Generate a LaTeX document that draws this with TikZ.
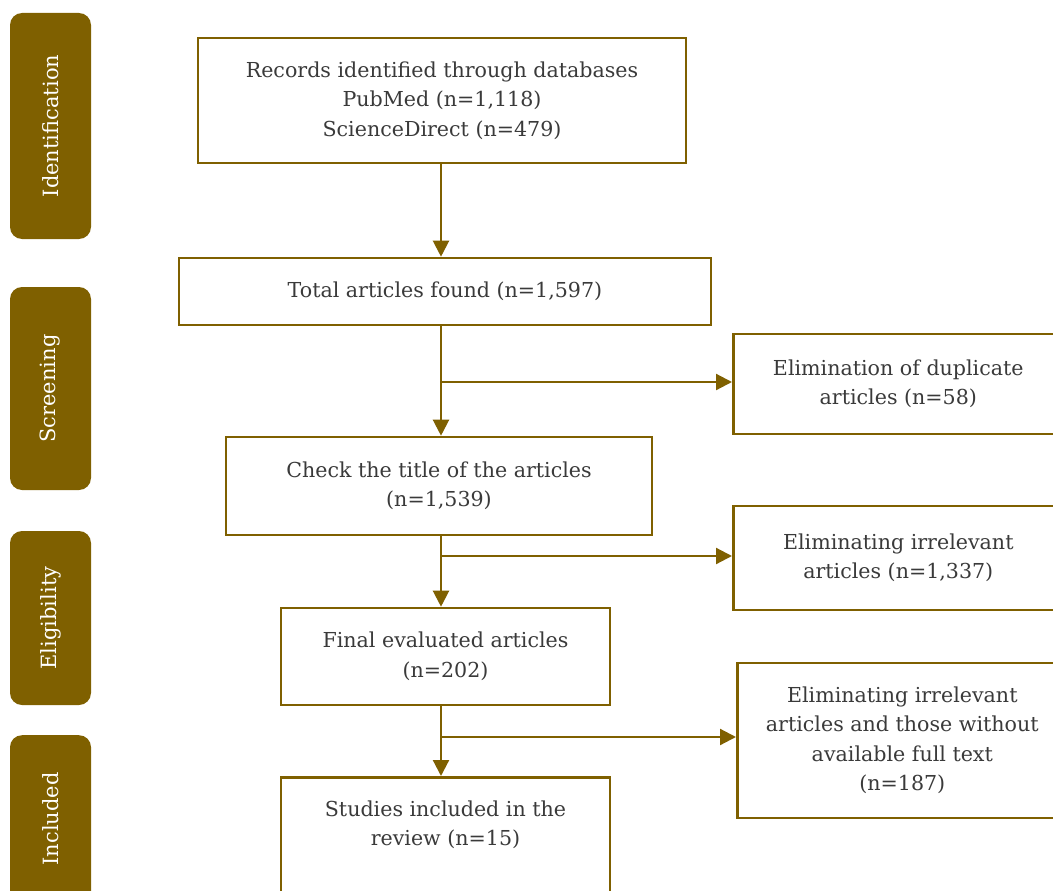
\documentclass[tikz,border=0pt]{standalone}
\usepackage{fontspec}
\setmainfont{DejaVu Serif}
\usetikzlibrary{arrows.meta}
\definecolor{brown}{HTML}{7F6000}
\definecolor{txt}{HTML}{3A3A3A}
\tikzset{
  mainbox/.style={draw=brown, line width=2.6pt, fill=white, rectangle, align=center,
    text=txt, font=\fontsize{20.6}{29.5}\selectfont, inner sep=0pt},
  tab/.style={fill=brown, rounded corners=12pt, rectangle, inner sep=0pt, minimum width=81pt},
  tabtext/.style={rotate=90, text=white, font=\fontsize{21}{24}\selectfont},
  arr/.style={draw=brown, line width=2.2pt, -{Triangle[length=16pt,width=16pt]}},
}
\begin{document}
\begin{tikzpicture}[x=1pt,y=-1pt]
\useasboundingbox (0,0) rectangle (1053,891);
\clip (0,0) rectangle (1053,891);
% side tabs
\node[tab, minimum height=226pt] (tid) at (50.5,126) {};
\node[tabtext] (tidt) at (tid.center) {Identification};
\node[tab, minimum height=203pt] (tsc) at (50.5,388.5) {};
\node[tabtext] (tsct) at (tsc.center) {Screening};
\node[tab, minimum height=174pt] (tel) at (50.5,618) {};
\node[tabtext] (telt) at (tel.center) {Eligibility};
\node[tab, minimum height=190pt, anchor=north] (tin) at (50.5,735) {};
\node[tabtext] (tint) at (50.5,819) {Included};
% main boxes
\node[mainbox, minimum width=488pt, minimum height=125pt] (records) at (442,100.5)
  {Records identified through databases\\PubMed (n=1,118)\\ScienceDirect (n=479)};
\node[mainbox, minimum width=532pt, minimum height=67pt] (total) at (445,291.5)
  {Total articles found (n=1,597)};
\node[mainbox, minimum width=426pt, minimum height=98pt] (check) at (439,486)
  {Check the title of the articles\\(n=1,539)};
\node[mainbox, minimum width=329pt, minimum height=97pt] (final) at (445.5,656.5)
  {Final evaluated articles\\(n=202)};
\node[mainbox, minimum width=329pt, minimum height=150pt, anchor=north] (studies) at (445.5,776) {};
\node[align=center, text=txt, font=\fontsize{20.6}{29.5}\selectfont] (studiest) at (445.5,825)
  {Studies included in the\\review (n=15)};
% right boxes
\node[mainbox, minimum width=330pt, minimum height=100pt, anchor=west] (dup) at (732,384)
  {Elimination of duplicate\\articles (n=58)};
\node[mainbox, minimum width=330pt, minimum height=104pt, anchor=west] (irr) at (732,558)
  {Eliminating irrelevant\\articles (n=1,337)};
\node[mainbox, minimum width=330pt, minimum height=155pt, anchor=west] (full) at (736,740.5)
  {Eliminating irrelevant\\articles and those without\\available full text\\(n=187)};
% connectors
\coordinate (spine) at (441,0);
\draw[arr] (spine |- records.south) -- (spine |- total.north);
\draw[arr] (spine |- total.south) -- (spine |- check.north);
\draw[arr] (spine |- check.south) -- (spine |- final.north);
\draw[arr] (spine |- final.south) -- (spine |- studies.north);
\coordinate (b1) at (441,382);
\coordinate (b2) at (441,556);
\coordinate (b3) at (441,737);
\draw[arr] (b1) -- (b1 -| dup.west);
\draw[arr] (b2) -- (b2 -| irr.west);
\draw[arr] (b3) -- (b3 -| full.west);
\end{tikzpicture}
\end{document}
